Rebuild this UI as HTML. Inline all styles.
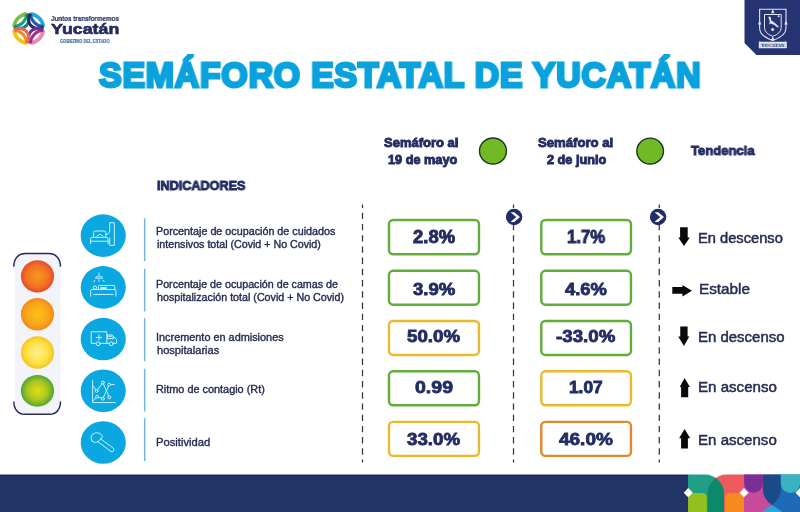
<!DOCTYPE html>
<html><head><meta charset="utf-8">
<style>
html,body{margin:0;padding:0;}
body{width:800px;height:512px;position:relative;overflow:hidden;background:#fff;font-family:"Liberation Sans",sans-serif;}
.t{position:absolute;white-space:nowrap;transform-origin:0 0;will-change:transform;}
.box{position:absolute;width:86.4px;height:31.2px;border:2.3px solid #62ae3a;border-radius:5px;background:#fff;}
.ic{position:absolute;width:44.8px;height:44.8px;border-radius:50%;background:#0ba6e0;}
svg{position:absolute;overflow:visible;}
</style></head><body>
<!-- logo -->
<svg style="left:0;top:0" width="800" height="512" viewBox="0 0 800 512">
  <!-- traffic light panel -->
  <rect x="14.8" y="254" width="45.8" height="159" fill="#f3f4f9"/>
  <path d="M13.8,266.7 C13.8,259 18,253.5 25.5,253.5 H48.8 C56,253.5 60.5,259 60.5,266.7" fill="none" stroke="#232a55" stroke-width="1.4"/>
  <path d="M13.8,401.4 C13.8,409 18,414.3 25,414.3 H49.3 C56.5,414.3 60.5,409 60.5,401.4" fill="none" stroke="#232a55" stroke-width="1.4"/>
  <defs>
    <radialGradient id="gr" cx="50%" cy="50%" r="50%"><stop offset="0" stop-color="#f79a1e"/><stop offset="0.7" stop-color="#f26f22"/><stop offset="1" stop-color="#e64a2c"/></radialGradient>
    <radialGradient id="go" cx="50%" cy="50%" r="50%"><stop offset="0" stop-color="#fcc315"/><stop offset="0.7" stop-color="#f9a41a"/><stop offset="1" stop-color="#f08a1c"/></radialGradient>
    <radialGradient id="gy" cx="50%" cy="50%" r="50%"><stop offset="0" stop-color="#fff18e"/><stop offset="0.65" stop-color="#fde145"/><stop offset="1" stop-color="#f6c41e"/></radialGradient>
    <radialGradient id="gg" cx="50%" cy="50%" r="50%"><stop offset="0" stop-color="#e1dd12"/><stop offset="0.6" stop-color="#a9c721"/><stop offset="1" stop-color="#52a72f"/></radialGradient>
  </defs>
  <ellipse cx="37.45" cy="276.3" rx="16.6" ry="16.1" fill="url(#gr)"/>
  <ellipse cx="37.45" cy="314.35" rx="16.6" ry="16.25" fill="url(#go)"/>
  <ellipse cx="37.45" cy="352.5" rx="16.6" ry="16.25" fill="url(#gy)"/>
  <ellipse cx="37.45" cy="390.8" rx="16.6" ry="15.9" fill="url(#gg)"/>

  <!-- emblem -->
  <path d="M744.5,0 H800 V55 H756.5 L744.5,43 Z" fill="#263373"/>
  <g fill="none" stroke="#e3e6f2" stroke-width="1.1">
    <path d="M759.6,9.3 H786 V28 Q786,36 772.8,40.4 Q759.6,36 759.6,28 Z"/>
    <path d="M764.5,14.5 H781.2 V27.5 Q781.2,33.5 772.8,36.3 Q764.5,33.5 764.5,27.5 Z" stroke-width="1"/>
  </g>
  <g fill="#e3e6f2">
    <path d="M768.3,17 Q770,15.8 770.8,17.6 L771.2,20.5 Q774,21.5 779,27 L777.6,27.4 Q774,24 770.5,23.6 L769,24.5 L769.8,21.5 Z"/>
    <circle cx="778.6" cy="16.3" r="1"/>
    <circle cx="772.6" cy="29.6" r="1.5"/>
    <path d="M772.8,9 l1.7,4.2 h-3.4z M772.8,36 l1.7,4.2 h-3.4z M759.6,20.5 l1.7,4 h-3.4z M786,20.5 l1.7,4 h-3.4z"/>
    <path d="M758.8,41.8 h1 v-1.6 l0.6,1.6 h24.8 l0.6,-1.6 v1.6 h1 V48.2 H758.8 Z"/>
  </g>
  <rect x="760.3" y="43" width="25" height="4" fill="#c9cee3"/>
  <text x="772.8" y="46.5" font-family="Liberation Serif" font-size="4.4" font-weight="bold" fill="#263373" text-anchor="middle" textLength="23" lengthAdjust="spacingAndGlyphs">YUCATAN</text>
  <!-- header circles -->
  <ellipse cx="492.97" cy="151" rx="13.47" ry="13.03" fill="#70ba25" stroke="#1c3522" stroke-width="1.4"/>
  <ellipse cx="650.15" cy="151.07" rx="13.35" ry="12.97" fill="#70ba25" stroke="#1c3522" stroke-width="1.4"/>

  <!-- light blue vertical lines -->
  <g stroke="#74b6d6" stroke-width="1.5">
    <line x1="144.66" y1="218.25" x2="144.66" y2="261.06"/>
    <line x1="144.66" y1="268.7" x2="144.66" y2="311.5"/>
    <line x1="144.66" y1="318.2" x2="144.66" y2="361.16"/>
    <line x1="144.66" y1="368.8" x2="144.66" y2="411.6"/>
    <line x1="144.66" y1="418.03" x2="144.66" y2="461.06"/>
  </g>
  <!-- dashed lines -->
  <g stroke="#34353f" stroke-width="1.25" stroke-dasharray="6.4 4.82" stroke-dashoffset="3.1">
    <line x1="362.5" y1="204.6" x2="362.5" y2="462.6"/>
    <line x1="513.5" y1="204.6" x2="513.5" y2="462.6"/>
    <line x1="659.3" y1="204.6" x2="659.3" y2="462.6"/>
  </g>
  <!-- chevron circles -->
  <g>
    <circle cx="514.1" cy="217" r="8.2" fill="#222c6b"/>
    <path d="M510.6,212.3 h3.6 l5.8,4.7 l-5.8,4.9 h-3.6 l5.6,-4.9 z" fill="#fff"/>
    <circle cx="658.1" cy="217" r="8.2" fill="#222c6b"/>
    <path d="M654.6,212.3 h3.6 l5.8,4.7 l-5.8,4.9 h-3.6 l5.6,-4.9 z" fill="#fff"/>
  </g>
  <!-- arrows -->
  <g fill="#0a0a0a">
    <path d="M680.1,227.3 H687.7 V237.5 H689.8 L684,246 L678.3,237.5 H680.1 Z"/>
    <path d="M672.3,286.9 H682.4 V285 L692,290.8 L682.4,296.5 V293.75 H672.3 Z"/>
    <path d="M680.25,326.4 H687.6 V336.6 H689.3 L683.9,346 L678.2,336.6 H680.25 Z"/>
    <path d="M684.6,377.9 L689.9,386.9 H688.2 V397.2 H681.1 V386.9 H679.7 Z"/>
    <path d="M684.6,429 L690.2,438.35 H687.9 V448.6 H681.1 V438.35 H679.1 Z"/>
  </g>
  <!-- footer -->
  <rect x="0" y="474.5" width="688.5" height="38" fill="#223366"/>
  <rect x="0" y="475" width="688.5" height="1" fill="#1c2452"/>
  <rect x="0" y="476" width="688.5" height="2" fill="#24316c"/>
</svg>

<!-- icon circles -->
<svg style="left:0;top:0" width="800" height="512" viewBox="0 0 800 512"><g fill="#0ba7e1">
 <ellipse cx="103.25" cy="235.65" rx="22.55" ry="21.35"/>
 <ellipse cx="103.25" cy="287.36" rx="22.55" ry="21.35"/>
 <ellipse cx="103.25" cy="339.07" rx="22.55" ry="21.3"/>
 <ellipse cx="103.25" cy="390.8" rx="22.55" ry="21.3"/>
 <ellipse cx="103.25" cy="442.5" rx="22.55" ry="21.3"/>
</g></svg>
<!-- icons -->
<svg style="left:78px;top:210px" width="50" height="50" viewBox="0 0 512 512"><g fill="none" stroke="#d6f6ff" stroke-width="9.5" stroke-linejoin="round" stroke-linecap="round">
 <path d="M160,272 V232 Q160,215 177,215 H268 Q285,215 285,232 V272"/>
 <path d="M192,268 Q222,230 256,268"/>
 <path d="M128,345 V300 Q128,280 148,280 H290 Q308,280 308,300 V345"/>
 <path d="M128,320 H308"/>
 <path d="M285,252 Q322,248 322,220"/>
 <path d="M325,215 V130 H372 V362 H325 V285"/>
</g></svg>
<svg style="left:78px;top:262px" width="50" height="50" viewBox="0 0 512 512"><g fill="none" stroke="#d6f6ff" stroke-width="9.5" stroke-linejoin="round" stroke-linecap="round">
 <path d="M215,112 V128 M180,162 Q215,120 250,162 Z M172,188 l-10,14 M258,188 l10,14 M215,182 V198"/>
 <circle cx="174" cy="262" r="17"/>
 <path d="M210,282 V250 Q210,240 220,240 H368 Q376,240 376,250 V282 M236,262 H292 V272 H236 Z"/>
 <path d="M130,352 V292 Q130,282 140,282 H378 Q388,282 388,292 V352 M160,332 H360"/>
</g></svg>
<svg style="left:78px;top:314px" width="50" height="50" viewBox="0 0 512 512"><g fill="none" stroke="#d6f6ff" stroke-width="9.5" stroke-linejoin="round" stroke-linecap="round">
 <path d="M185,300 H135 V182 H295 V300 H225 M295,300 H320 M360,300 H395 V262 L350,215 H295"/>
 <path d="M215,213 V267 M188,240 H242"/>
 <path d="M305,228 H345 L368,252 H305 Z"/>
 <circle cx="205" cy="305" r="20"/><circle cx="340" cy="305" r="20"/>
</g></svg>
<svg style="left:78px;top:365px" width="50" height="50" viewBox="0 0 512 512"><g fill="none" stroke="#d6f6ff" stroke-width="9.5" stroke-linejoin="round" stroke-linecap="round">
 <path d="M150,155 V385 H385"/>
 <path d="M150,210 L190,265 L255,180 L320,332"/>
 <path d="M150,372 L195,325 L255,345 L320,200 H372"/>
 <g fill="#0ba6e0"><circle cx="190" cy="265" r="15"/><circle cx="255" cy="180" r="15"/><circle cx="320" cy="332" r="15"/><circle cx="195" cy="325" r="15"/><circle cx="255" cy="345" r="15"/><circle cx="320" cy="200" r="15"/></g>
</g></svg>
<svg style="left:78px;top:417px" width="50" height="50" viewBox="0 0 512 512"><g fill="none" stroke="#d6f6ff" stroke-width="9.5" stroke-linejoin="round" stroke-linecap="round">
 <path d="M152,252 Q130,248 138,226 Q124,206 142,192 Q140,170 166,170 Q180,152 202,164 Q228,160 236,180 Q256,190 246,212 L218,238 Q212,262 188,258 Q170,270 152,252 Z"/>
 <path d="M200,250 L335,352 Q352,362 366,346 Q374,330 360,318 L228,222"/>
</g></svg>

<svg style="left:8px;top:8px" width="44" height="44" viewBox="0 0 512 512"><g fill="none" stroke-linecap="butt">
 <path d="M69.3,217.0 A172,172 0 0 1 219.0,67.3" stroke="#7cbf42" stroke-width="44"/>
 <path d="M69.3,217.0 A158.6,158.6 0 0 0 219.0,67.3" stroke="#14a085" stroke-width="36"/>
 <path d="M69.3,217.0 A106.7,106.7 0 0 0 219.0,67.3" stroke="#0f8a70" stroke-width="36"/>
 <path d="M261.0,67.3 A172,172 0 0 1 410.7,217.0" stroke="#25a6de" stroke-width="44"/>
 <path d="M261.0,67.3 A158.6,158.6 0 0 0 410.7,217.0" stroke="#1d5fa8" stroke-width="36"/>
 <path d="M261.0,67.3 A106.7,106.7 0 0 0 410.7,217.0" stroke="#272b63" stroke-width="36"/>
 <path d="M410.7,259.0 A172,172 0 0 1 261.0,408.7" stroke="#e68cab" stroke-width="44"/>
 <path d="M410.7,259.0 A158.6,158.6 0 0 0 261.0,408.7" stroke="#ad2a8c" stroke-width="36"/>
 <path d="M410.7,259.0 A106.7,106.7 0 0 0 261.0,408.7" stroke="#6a3193" stroke-width="36"/>
 <path d="M219.0,408.7 A172,172 0 0 1 69.3,259.0" stroke="#f5c21c" stroke-width="44"/>
 <path d="M219.0,408.7 A158.6,158.6 0 0 0 69.3,259.0" stroke="#f08a22" stroke-width="36"/>
 <path d="M219.0,408.7 A106.7,106.7 0 0 0 69.3,259.0" stroke="#e9655c" stroke-width="36"/>
</g></svg>

<svg style="left:0;top:0" width="800" height="512" viewBox="0 0 800 512">
 <defs>
  <clipPath id="cright"><rect x="744.2" y="470" width="60" height="50"/></clipPath>
  <clipPath id="cpk"><circle cx="753.5" cy="512" r="19.85"/></clipPath>
  <clipPath id="cteal"><path d="M688,512 V474.5 H704.6 A19.5,19.5 0 0 1 724.1,494 V512 Z"/></clipPath>
 </defs>
 <path d="M688,512 V474.5 H704.6 A19.5,19.5 0 0 1 724.1,494 V512 Z" fill="#1e9f86"/>
 <path d="M744,512 V474.5 H726.8 A19.5,19.5 0 0 0 707.3,494 V512 Z" fill="#ee5b5e"/>
 <path d="M744,512 V474.5 H726.8 A19.5,19.5 0 0 0 707.3,494 V512 Z" fill="#0b8a6b" clip-path="url(#cteal)"/>
 <path d="M688.1,512 V498.1 Q688.1,493.1 693.1,493.1 H701.9 Q706.9,493.1 706.9,498.1 V512 Z" fill="#93c01f"/>
 <path d="M725.2,512 V498.1 Q725.2,493.1 730.2,493.1 H744.3 V512 Z" fill="#f68a1f"/>
 <rect x="744" y="474.5" width="28" height="37.5" fill="#c84a9b"/>
 <rect x="771.8" y="474.5" width="28.2" height="37.5" fill="#1f6ab7"/>
 <path d="M762.9,474.5 H780.8 V490.3 Q780.3,499 771.8,505 Q763.3,499 762.9,490.3 Z" fill="#1a4a88"/>
 <path d="M761.8,512.5 Q767,507.5 771.8,505 Q777.5,508 782.9,512.5 Z" fill="#2aa5de"/>
 <path d="M744.2,474.5 H762.9 V483.4 A9.35,9.35 0 0 1 744.2,483.4 Z" fill="#7b2f95"/>
 <path d="M780.8,474.5 H800 V483.4 A9.6,9.6 0 0 1 780.8,483.4 Z" fill="#3bb3bf"/>
 <g fill="#fff">
  <path d="M683.7,492.7 L688.2,488.1 L692.8,492.7 L688.2,497.2 Z"/>
  <path d="M739.5,492.7 L744,488.1 L748.6,492.7 L744,497.2 Z"/>
  <path d="M795.5,492.7 L800,488.1 L804.6,492.7 L800,497.2 Z"/>
 </g>
</svg>
<svg style="left:0;top:0" width="800" height="512" viewBox="0 0 800 512"><g fill="#fff" stroke-width="2.4">
<rect x="388.97" y="219.97" width="90.00" height="34.33" rx="4.2" stroke="#60ad3a"/>
<rect x="541.28" y="219.97" width="89.69" height="34.33" rx="4.2" stroke="#60ad3a"/>
<rect x="388.97" y="270.75" width="90.00" height="34.00" rx="4.2" stroke="#60ad3a"/>
<rect x="541.28" y="270.75" width="89.69" height="34.00" rx="4.2" stroke="#60ad3a"/>
<rect x="388.97" y="320.97" width="90.00" height="34.00" rx="4.2" stroke="#ebb92c"/>
<rect x="541.28" y="320.97" width="89.69" height="34.00" rx="4.2" stroke="#60ad3a"/>
<rect x="388.97" y="371.28" width="90.00" height="34.00" rx="4.2" stroke="#60ad3a"/>
<rect x="541.28" y="371.28" width="89.69" height="34.00" rx="4.2" stroke="#ebb92c"/>
<rect x="388.97" y="421.90" width="90.00" height="33.94" rx="4.2" stroke="#ebb92c"/>
<rect x="541.28" y="421.90" width="89.69" height="33.94" rx="4.2" stroke="#e0882c"/>
</g></svg>
<div class="t" style="left:99.30px;top:57.68px;font-size:35.76px;line-height:35.76px;font-weight:bold;color:#09a2dd;transform:scaleX(0.9481);letter-spacing:0.8px;-webkit-text-stroke:2.85px #09a2dd">SEMÁFORO ESTATAL DE YUCATÁN</div>
<div class="t" style="left:50.99px;top:15.08px;font-size:7.49px;line-height:7.49px;font-weight:bold;color:#2a2f66;transform:scaleX(0.8369);letter-spacing:0px;-webkit-text-stroke:0.18px #2a2f66">Juntos transformemos</div>
<div class="t" style="left:51.48px;top:21.26px;font-size:15.55px;line-height:15.55px;font-weight:bold;color:#252a60;transform:scaleX(1.1450);letter-spacing:0px;-webkit-text-stroke:0.61px #252a60">Yucatán</div>
<div class="t" style="left:59.74px;top:39.90px;font-size:4.65px;line-height:4.65px;font-weight:bold;color:#3566a8;transform:scaleX(0.8842);letter-spacing:0px;-webkit-text-stroke:0.11px #3566a8">GOBIERNO DEL ESTADO</div>
<div class="t" style="left:384.08px;top:136.84px;font-size:12.35px;line-height:12.35px;font-weight:bold;color:#232d62;transform:scaleX(1.0536);letter-spacing:0px;-webkit-text-stroke:0.85px #232d62">Semáforo al</div>
<div class="t" style="left:388.40px;top:153.75px;font-size:12.35px;line-height:12.35px;font-weight:bold;color:#232d62;transform:scaleX(1.0294);letter-spacing:0px;-webkit-text-stroke:0.87px #232d62">19 de mayo</div>
<div class="t" style="left:537.76px;top:136.55px;font-size:12.35px;line-height:12.35px;font-weight:bold;color:#232d62;transform:scaleX(1.0654);letter-spacing:0px;-webkit-text-stroke:0.84px #232d62">Semáforo al</div>
<div class="t" style="left:546.82px;top:153.74px;font-size:12.35px;line-height:12.35px;font-weight:bold;color:#232d62;transform:scaleX(1.0297);letter-spacing:0px;-webkit-text-stroke:0.87px #232d62">2 de junio</div>
<div class="t" style="left:690.55px;top:143.67px;font-size:13.23px;line-height:13.23px;font-weight:bold;color:#232d62;transform:scaleX(0.9879);letter-spacing:0px;-webkit-text-stroke:0.91px #232d62">Tendencia</div>
<div class="t" style="left:156.59px;top:180.20px;font-size:12.79px;line-height:12.79px;font-weight:bold;color:#232d62;transform:scaleX(0.9877);letter-spacing:0px;-webkit-text-stroke:0.91px #232d62">INDICADORES</div>
<div class="t" style="left:156.18px;top:226.53px;font-size:10.35px;line-height:10.35px;font-weight:normal;color:#262c52;transform:scaleX(1.0395);letter-spacing:0px;-webkit-text-stroke:0.37px #262c52">Porcentaje de ocupación de cuidados</div>
<div class="t" style="left:156.68px;top:239.79px;font-size:10.35px;line-height:10.35px;font-weight:normal;color:#262c52;transform:scaleX(1.0308);letter-spacing:0px;-webkit-text-stroke:0.37px #262c52">intensivos total (Covid + No Covid)</div>
<div class="t" style="left:156.31px;top:279.82px;font-size:10.35px;line-height:10.35px;font-weight:normal;color:#262c52;transform:scaleX(1.0339);letter-spacing:0px;-webkit-text-stroke:0.37px #262c52">Porcentaje de ocupación de camas de</div>
<div class="t" style="left:156.56px;top:292.63px;font-size:10.35px;line-height:10.35px;font-weight:normal;color:#262c52;transform:scaleX(1.0342);letter-spacing:0px;-webkit-text-stroke:0.37px #262c52">hospitalización total (Covid + No Covid)</div>
<div class="t" style="left:156.27px;top:332.81px;font-size:10.35px;line-height:10.35px;font-weight:normal;color:#262c52;transform:scaleX(1.0520);letter-spacing:0px;-webkit-text-stroke:0.36px #262c52">Incremento en admisiones</div>
<div class="t" style="left:156.67px;top:345.87px;font-size:10.35px;line-height:10.35px;font-weight:normal;color:#262c52;transform:scaleX(1.0718);letter-spacing:0px;-webkit-text-stroke:0.35px #262c52">hospitalarias</div>
<div class="t" style="left:156.39px;top:384.59px;font-size:10.35px;line-height:10.35px;font-weight:normal;color:#262c52;transform:scaleX(1.0515);letter-spacing:0px;-webkit-text-stroke:0.36px #262c52">Ritmo de contagio (Rt)</div>
<div class="t" style="left:156.45px;top:437.76px;font-size:10.35px;line-height:10.35px;font-weight:normal;color:#262c52;transform:scaleX(1.0837);letter-spacing:0px;-webkit-text-stroke:0.35px #262c52">Positividad</div>
<div class="t" style="left:698.04px;top:232.15px;font-size:13.95px;line-height:13.95px;font-weight:normal;color:#262c52;transform:scaleX(1.0524);letter-spacing:0px;-webkit-text-stroke:0.48px #262c52">En descenso</div>
<div class="t" style="left:699.12px;top:282.38px;font-size:14.53px;line-height:14.53px;font-weight:normal;color:#262c52;transform:scaleX(1.0533);letter-spacing:0px;-webkit-text-stroke:0.47px #262c52">Estable</div>
<div class="t" style="left:698.02px;top:330.15px;font-size:14.24px;line-height:14.24px;font-weight:normal;color:#262c52;transform:scaleX(1.0512);letter-spacing:0px;-webkit-text-stroke:0.48px #262c52">En descenso</div>
<div class="t" style="left:698.44px;top:380.21px;font-size:14.24px;line-height:14.24px;font-weight:normal;color:#262c52;transform:scaleX(1.0601);letter-spacing:0px;-webkit-text-stroke:0.47px #262c52">En ascenso</div>
<div class="t" style="left:698.33px;top:433.20px;font-size:14.24px;line-height:14.24px;font-weight:normal;color:#262c52;transform:scaleX(1.0590);letter-spacing:0px;-webkit-text-stroke:0.47px #262c52">En ascenso</div>
<div class="t" style="left:412.89px;top:228.84px;font-size:17.44px;line-height:17.44px;font-weight:bold;color:#232d62;transform:scaleX(1.0581);letter-spacing:0px;-webkit-text-stroke:0.85px #232d62">2.8%</div>
<div class="t" style="left:566.82px;top:229.10px;font-size:17.44px;line-height:17.44px;font-weight:bold;color:#232d62;transform:scaleX(0.9593);letter-spacing:0px;-webkit-text-stroke:0.94px #232d62">1.7%</div>
<div class="t" style="left:413.42px;top:280.69px;font-size:17.08px;line-height:17.08px;font-weight:bold;color:#232d62;transform:scaleX(1.0855);letter-spacing:0px;-webkit-text-stroke:0.83px #232d62">3.9%</div>
<div class="t" style="left:564.90px;top:280.66px;font-size:17.08px;line-height:17.08px;font-weight:bold;color:#232d62;transform:scaleX(1.0731);letter-spacing:0px;-webkit-text-stroke:0.84px #232d62">4.6%</div>
<div class="t" style="left:407.00px;top:327.69px;font-size:17.15px;line-height:17.15px;font-weight:bold;color:#232d62;transform:scaleX(1.0930);letter-spacing:0px;-webkit-text-stroke:0.82px #232d62">50.0%</div>
<div class="t" style="left:555.73px;top:327.79px;font-size:17.15px;line-height:17.15px;font-weight:bold;color:#232d62;transform:scaleX(1.0927);letter-spacing:0px;-webkit-text-stroke:0.82px #232d62">-33.0%</div>
<div class="t" style="left:414.59px;top:380.31px;font-size:16.79px;line-height:16.79px;font-weight:bold;color:#232d62;transform:scaleX(1.1643);letter-spacing:0px;-webkit-text-stroke:0.77px #232d62">0.99</div>
<div class="t" style="left:568.72px;top:380.45px;font-size:16.79px;line-height:16.79px;font-weight:bold;color:#232d62;transform:scaleX(1.0297);letter-spacing:0px;-webkit-text-stroke:0.87px #232d62">1.07</div>
<div class="t" style="left:407.21px;top:430.53px;font-size:17.15px;line-height:17.15px;font-weight:bold;color:#232d62;transform:scaleX(1.0905);letter-spacing:0px;-webkit-text-stroke:0.83px #232d62">33.0%</div>
<div class="t" style="left:558.92px;top:430.67px;font-size:17.15px;line-height:17.15px;font-weight:bold;color:#232d62;transform:scaleX(1.1070);letter-spacing:0px;-webkit-text-stroke:0.81px #232d62">46.0%</div>
</body></html>
